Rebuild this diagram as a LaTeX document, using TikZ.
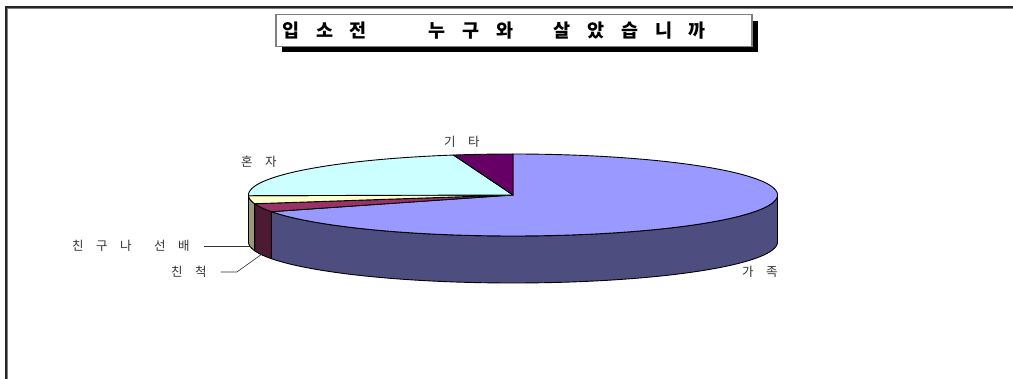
\documentclass[tikz,border=0pt]{standalone}
\usepackage{fontspec}
\newfontfamily\kr{Noto Sans CJK KR}
\definecolor{famtop}{HTML}{9999FF}
\definecolor{famside}{HTML}{4D4D80}
\definecolor{reltop}{HTML}{993366}
\definecolor{relside}{HTML}{4D1A33}
\definecolor{frtop}{HTML}{FFFFCC}
\definecolor{frside}{HTML}{999977}
\definecolor{alonetop}{HTML}{CCFFFF}
\definecolor{etctop}{HTML}{660066}
\definecolor{labelgray}{HTML}{333333}
\def\CX{513}\def\CY{195}\def\RX{264.5}\def\RY{41}\def\DP{47}
\begin{document}
\begin{tikzpicture}[x=1pt,y=-1pt,
  slice/.style={draw=black,line width=0.9pt,line join=round},
  lbl/.style={font={\kr\fontsize{12.5}{12.5}\selectfont}, text=labelgray, inner sep=0pt, anchor=west},
  leader/.style={draw=black!80, line width=0.6pt},
  titlebox/.style={draw=gray, line width=1.5pt, fill=white, inner xsep=6.5pt, inner ysep=0pt, minimum height=32pt, anchor=north west,
    font={\kr\bfseries\fontsize{18.5}{18.5}\selectfont}}]
\useasboundingbox (0,0) rectangle (1013,379);
\fill[white] (0,0) rectangle (1013,379);
% outer frame
\draw[gray, line width=0.8pt] (7.5,379) -- (7.5,8.6) -- (1013,8.6);
\draw[black!85, line width=1.3pt] (6,379) -- (6,7) -- (1013,7);
% side faces
\filldraw[slice, fill=famside] plot[domain=204:360,samples=90] ({\CX+\RX*cos(\x)},{\CY-\RY*sin(\x)}) -- plot[domain=360:204,samples=90] ({\CX+\RX*cos(\x)},{\CY+\DP-\RY*sin(\x)}) -- cycle;
\filldraw[slice, fill=relside] plot[domain=192.3:204,samples=10] ({\CX+\RX*cos(\x)},{\CY-\RY*sin(\x)}) -- plot[domain=204:192.3,samples=10] ({\CX+\RX*cos(\x)},{\CY+\DP-\RY*sin(\x)}) -- cycle;
\filldraw[slice, fill=frside] plot[domain=181:192.3,samples=10] ({\CX+\RX*cos(\x)},{\CY-\RY*sin(\x)}) -- plot[domain=192.3:181,samples=10] ({\CX+\RX*cos(\x)},{\CY+\DP-\RY*sin(\x)}) -- cycle;
% top faces
\filldraw[slice, fill=famtop] (\CX,\CY) -- plot[domain=204:450,samples=160] ({\CX+\RX*cos(\x)},{\CY-\RY*sin(\x)}) -- cycle;
\filldraw[slice, fill=reltop] (\CX,\CY) -- plot[domain=192.3:204,samples=10] ({\CX+\RX*cos(\x)},{\CY-\RY*sin(\x)}) -- cycle;
\filldraw[slice, fill=frtop] (\CX,\CY) -- plot[domain=181:192.3,samples=10] ({\CX+\RX*cos(\x)},{\CY-\RY*sin(\x)}) -- cycle;
\filldraw[slice, fill=alonetop] (\CX,\CY) -- plot[domain=103:181,samples=60] ({\CX+\RX*cos(\x)},{\CY-\RY*sin(\x)}) -- cycle;
\filldraw[slice, fill=etctop] (\CX,\CY) -- plot[domain=90:103,samples=10] ({\CX+\RX*cos(\x)},{\CY-\RY*sin(\x)}) -- cycle;
% title
\fill[black] (282,21) rectangle (758,52);
\node[titlebox] (title) at (275,14) {\makebox[463pt][l]{\spaceskip=16.8pt\relax 입 소 전 \hspace{44.7pt}누 구 와 \hspace{23.7pt}살 았 습 니 까}};
% labels
\node[lbl] (alone) at (241,162) {\spaceskip=12.5pt\relax 혼 자};
\node[lbl] (etc) at (444,142) {\spaceskip=12.5pt\relax 기 타};
\node[lbl] (friend) at (72,246) {\spaceskip=12.5pt\relax 친 구 나 \hspace{10pt}선 배};
\node[lbl] (rel) at (171,272) {\spaceskip=12.5pt\relax 친 척};
\node[lbl] (fam) at (742,272) {\spaceskip=12.5pt\relax 가 족};
% leaders
\coordinate (pfr) at (250,246);
\coordinate (prel) at (262,254);
\draw[leader] ([xshift=14pt]friend.east) -- (pfr);
\draw[leader] ([xshift=14pt]rel.east) -- ++(16,0) -- (prel);
\end{tikzpicture}
\end{document}
